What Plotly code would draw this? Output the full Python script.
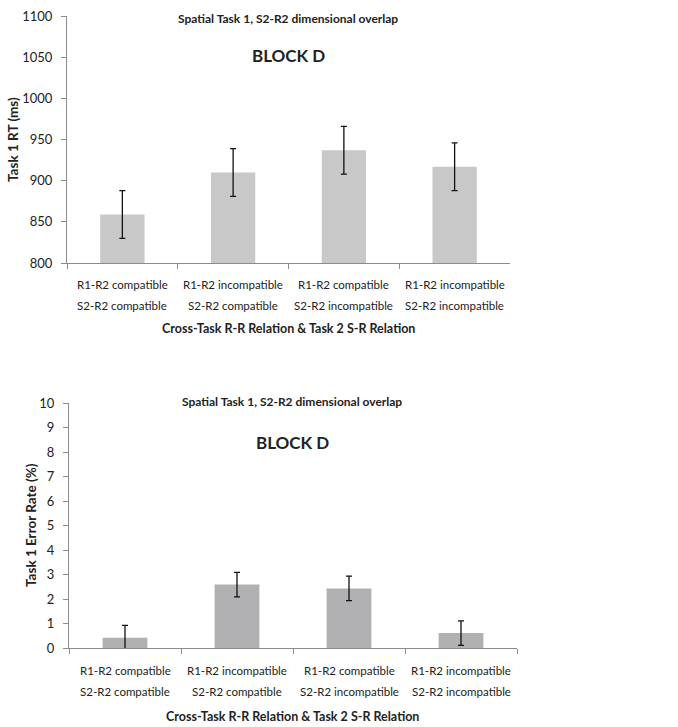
import plotly.graph_objects as go

rr_relation = ["R1-R2 compatible", "R1-R2 incompatible", "R1-R2 compatible", "R1-R2 incompatible"]
sr_relation = ["S2-R2 compatible", "S2-R2 compatible", "S2-R2 incompatible", "S2-R2 incompatible"]
categories = [f"{a} / {b}" for a, b in zip(rr_relation, sr_relation)]
rt_values = [859, 910, 937, 917]
rt_errors = [29, 29, 29, 29]
err_values = [0.42, 2.59, 2.43, 0.61]
err_errors = [0.5, 0.5, 0.5, 0.5]

W, H = 678, 727
FONT = "Lato"
TXT = "#222222"

fig = go.Figure()
fig.add_trace(go.Bar(
    x=categories, y=rt_values, width=0.4, marker=dict(color="#c8c8c8", line=dict(width=0)),
    error_y=dict(type="data", array=rt_errors, color="#111111", thickness=1.3, width=3),
    xaxis="x", yaxis="y", showlegend=False, hoverinfo="skip",
))
fig.add_trace(go.Bar(
    x=categories, y=err_values, width=0.4, marker=dict(color="#b1b1b3", line=dict(width=0)),
    error_y=dict(type="data", array=err_errors, color="#111111", thickness=1.3, width=3),
    xaxis="x2", yaxis="y2", showlegend=False, hoverinfo="skip",
))

def px_x(p):
    return p / W

def px_y(p):
    return 1 - p / H

axis_common = dict(
    showline=True, linecolor="#8c8c8c", linewidth=1, showgrid=False, zeroline=False,
    ticks="outside", ticklen=5, tickcolor="#8c8c8c", automargin=False, fixedrange=True,
)
yfont = dict(family=FONT, size=13, color=TXT)

fig.update_layout(
    width=W, height=H,
    margin=dict(l=0, r=0, t=0, b=0),
    paper_bgcolor="white", plot_bgcolor="white",
    xaxis=dict(domain=[px_x(67), px_x(510)], anchor="y", range=[-0.5, 3.5],
               tickson="boundaries", showticklabels=False, **axis_common),
    yaxis=dict(domain=[px_y(263), px_y(16)], anchor="x", range=[800, 1100],
               tickvals=[800, 850, 900, 950, 1000, 1050, 1100], ticklabelstandoff=6,
               tickfont=yfont, **axis_common),
    xaxis2=dict(domain=[px_x(69), px_x(517)], anchor="y2", range=[-0.5, 3.5],
                tickson="boundaries", showticklabels=False, **axis_common),
    yaxis2=dict(domain=[px_y(648), px_y(403)], anchor="x2", range=[0, 10],
                tickvals=list(range(0, 11)), ticklabelstandoff=6, tickfont=yfont, **axis_common),
)

def ann(text, x, y, size, bold=True, angle=0):
    fig.add_annotation(
        text=f"<b>{text}</b>" if bold else text, x=px_x(x), y=px_y(y),
        xref="paper", yref="paper", showarrow=False, textangle=angle,
        font=dict(family=FONT, size=size, color=TXT),
        xanchor="center", yanchor="middle",
    )

# two-line category labels placed through the category axes
for xref, y1, y2 in (("x", 284, 305), ("x2", 670, 691)):
    for cat, l1, l2 in zip(categories, rr_relation, sr_relation):
        for txt, yy in ((l1, y1), (l2, y2)):
            fig.add_annotation(
                text=txt, x=cat, xref=xref, y=px_y(yy), yref="paper", showarrow=False,
                font=dict(family=FONT, size=11.5, color=TXT), xanchor="center", yanchor="middle",
            )

ann("Spatial Task 1, S2-R2 dimensional overlap", 288, 18, 12)
ann("BLOCK D", 288, 55, 17)
ann("Cross-Task R-R Relation &amp; Task 2 S-R Relation", 288, 328, 12.5)
ann("Task 1 RT (ms)", 13, 140, 13.5, angle=-90)

ann("Spatial Task 1, S2-R2 dimensional overlap", 292, 401, 12)
ann("BLOCK D", 292, 442, 17)
ann("Cross-Task R-R Relation &amp; Task 2 S-R Relation", 292, 716, 12.5)
ann("Task 1 Error Rate (%)", 31, 525, 13.5, angle=-90)

fig.write_html(
    "out.html",
    config={"displayModeBar": False, "staticPlot": True},
    post_script="document.body.style.margin='0';document.body.style.overflow='hidden';",
)
